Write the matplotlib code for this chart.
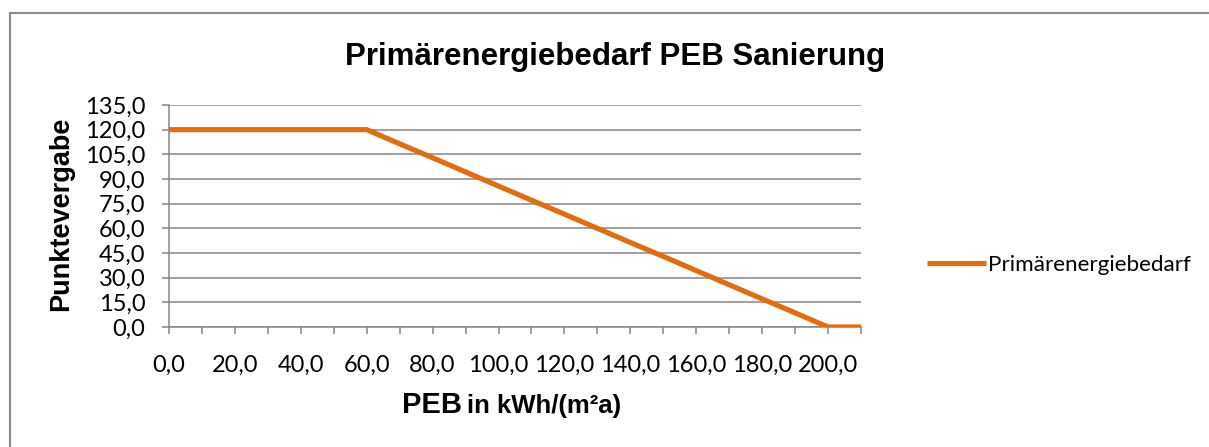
import matplotlib
matplotlib.use('Agg')
import matplotlib.pyplot as plt
from matplotlib.patches import Rectangle

# ---------------------------------------------------------
# Data
# ---------------------------------------------------------
peb = [0, 10, 20, 30, 40, 50, 60, 70, 80, 90, 100, 110, 120, 130, 140, 150,
       160, 170, 180, 190, 200, 210]
punkte = [120.0, 120.0, 120.0, 120.0, 120.0, 120.0, 120.0, 111.4, 102.9, 94.3,
          85.7, 77.1, 68.6, 60.0, 51.4, 42.9, 34.3, 25.7, 17.1, 8.6, 0.0, 0.0]
y_ticks = [0, 15, 30, 45, 60, 75, 90, 105, 120, 135]

title = 'Primärenergiebedarf PEB Sanierung'
series_name = 'Primärenergiebedarf'


def de_fmt(v):
    return f'{v:.1f}'.replace('.', ',')


# ---------------------------------------------------------
# Plotting
# ---------------------------------------------------------
W, H = 1209, 447
fig = plt.figure(figsize=(W / 100, H / 100), dpi=100)
fig.patch.set_facecolor('white')

# plot area in pixel coords: x 169..861, y 105..327 (from top)
ax = fig.add_axes([169 / W, 1 - 327 / H, 692 / W, 222 / H])

orange = '#E46C0A'
grey = '#868686'
tick_font = ['Lato', 'DejaVu Sans']
bold_font = ['Liberation Sans', 'DejaVu Sans']

line, = ax.plot(peb, punkte, color=orange, linewidth=3.7,
                solid_joinstyle='round', solid_capstyle='butt',
                label=series_name, zorder=3)

ax.set_xlim(peb[0], peb[-1])
ax.set_ylim(y_ticks[0], y_ticks[-1])

ax.set_xticks(peb)
ax.set_xticklabels([de_fmt(v) if i % 2 == 0 else '' for i, v in enumerate(peb)],
                   family=tick_font, fontsize=17)
ax.set_yticks(y_ticks)
ax.set_yticklabels([de_fmt(v) for v in y_ticks], family=tick_font, fontsize=17)

ax.grid(axis='y', color=grey, linewidth=1.1)
ax.set_axisbelow(True)
ax.tick_params(axis='both', direction='out', length=5, width=1.1, color=grey)
ax.tick_params(axis='y', pad=12)
ax.tick_params(axis='x', pad=15)

for s in ['top', 'right']:
    ax.spines[s].set_visible(False)
for s in ['left', 'bottom']:
    ax.spines[s].set_color(grey)
    ax.spines[s].set_linewidth(1.1)

# title
fig.text(615 / W, 1 - 65 / H, title, ha='center', va='baseline',
         family=bold_font, fontweight='bold', fontsize=22.5)

# y label
fig.text(68 / W, 1 - 214 / H, 'Punktevergabe', rotation=90, ha='center',
         va='baseline', rotation_mode='anchor', family=bold_font,
         fontweight='bold', fontsize=19.5)

# x label (two sizes)
fig.text(402 / W, 1 - 413 / H, 'PEB', ha='left', va='baseline',
         family=bold_font, fontweight='bold', fontsize=21)
fig.text(467 / W, 1 - 413 / H, 'in kWh/(m²a)', ha='left', va='baseline',
         family=bold_font, fontweight='bold', fontsize=18.5)

# legend
fig.legend(handles=[line], loc='center left', bbox_to_anchor=(907 / W, 1 - 265 / H),
           frameon=False, handlelength=2.6, handletextpad=0.1,
           prop={'family': tick_font, 'size': 16.2})

# chart frame (cropped at right and bottom)
fig.add_artist(Rectangle((10 / W, -0.2), 1.2, 1 - 13 / H + 0.2,
                         transform=fig.transFigure, fill=False,
                         edgecolor='#8c8c8c', linewidth=1.5))

fig.savefig('out.png', dpi=100)
